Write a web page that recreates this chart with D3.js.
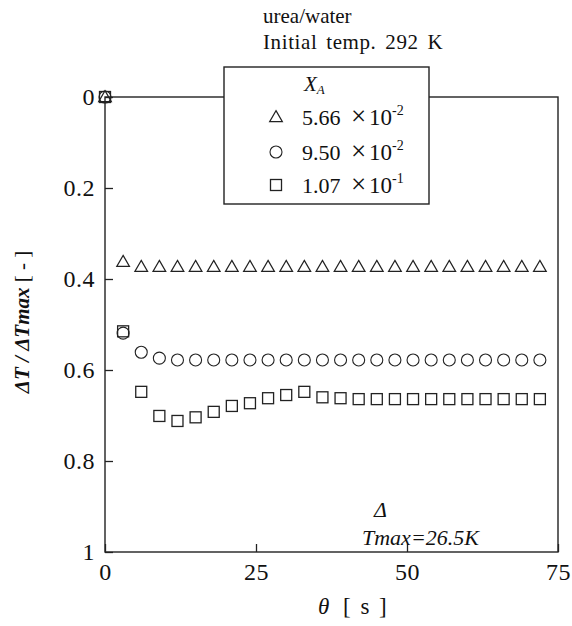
<!DOCTYPE html>
<html>
<head>
  <style>
    body { margin: 0; background: #fff; }
    text { font-family: "Liberation Serif", "DejaVu Serif", serif; fill: #111; }
  </style>
</head>
<body>
  <script src="https://d3js.org/d3.v7.min.js"></script>
  <script>
    // time points [s]
    const times = [0, 3, 6, 9, 12, 15, 18, 21, 24, 27, 30, 33, 36, 39, 42, 45, 48, 51, 54, 57, 60, 63, 66, 69, 72];

    // dT / dTmax for each mole fraction
    const triValues = [0, 0.362, 0.373, 0.373, 0.373, 0.373, 0.373, 0.373, 0.373, 0.373, 0.373, 0.373, 0.373,
      0.373, 0.373, 0.373, 0.373, 0.373, 0.373, 0.373, 0.373, 0.373, 0.373, 0.373, 0.373];
    const circValues = [0, 0.519, 0.561, 0.574, 0.578, 0.578, 0.578, 0.578, 0.578, 0.578, 0.578, 0.578, 0.578,
      0.578, 0.578, 0.578, 0.578, 0.578, 0.578, 0.578, 0.578, 0.578, 0.578, 0.578, 0.578];
    const sqValues = [0, 0.515, 0.648, 0.701, 0.712, 0.704, 0.692, 0.679, 0.673, 0.662, 0.655, 0.648, 0.660,
      0.662, 0.664, 0.664, 0.664, 0.664, 0.664, 0.664, 0.664, 0.664, 0.664, 0.664, 0.664];

    const legendMant = ["5.66", "9.50", "1.07"];
    const legendExp = ["-2", "-2", "-1"];

    const xTicks = [0, 25, 50, 75];
    const yTicks = [0, 0.2, 0.4, 0.6, 0.8, 1];

    const w = 572;
    const h = 626;

    const xScale = d3.scaleLinear().domain([0, 75]).range([105, 558]);
    const yScale = d3.scaleLinear().domain([0, 1]).range([97, 552]);

    const svg = d3.select("body").append("svg")
      .attr("width", w)
      .attr("height", h);

    // frame
    svg.append("rect")
      .attr("x", xScale(0)).attr("y", yScale(0))
      .attr("width", xScale(75) - xScale(0))
      .attr("height", yScale(1) - yScale(0))
      .attr("fill", "none").attr("stroke", "#222").attr("stroke-width", 1.4);

    // axes with inward ticks
    const yAxis = d3.axisLeft(yScale).tickValues(yTicks).tickSize(-8).tickPadding(10)
      .tickFormat(d => (d === 0 || d === 1) ? String(d) : d.toFixed(1));
    const xAxis = d3.axisBottom(xScale).tickValues(xTicks).tickSize(-8).tickPadding(11)
      .tickFormat(d3.format("d"));

    const gy = svg.append("g").attr("transform", "translate(" + xScale(0) + ",0)").call(yAxis);
    const gx = svg.append("g").attr("transform", "translate(0," + yScale(1) + ")").call(xAxis);
    [gx, gy].forEach(g => {
      g.select(".domain").remove();
      g.selectAll("line").attr("stroke", "#222").attr("stroke-width", 1.3);
      g.selectAll("text").style("font-family", "Liberation Serif").style("font-size", "24px")
        .style("letter-spacing", "0.5px").attr("fill", "#111");
    });

    // markers
    const tri = d3.symbol().type(d3.symbolTriangle).size(70);
    const series = [
      { vals: triValues, kind: "tri" },
      { vals: circValues, kind: "circ" },
      { vals: sqValues, kind: "sq" }
    ];

    function drawMarker(g, kind, cx, cy) {
      if (kind === "tri") {
        g.append("path").attr("d", tri()).attr("transform", "translate(" + cx + "," + (cy + 1) + ")")
          .attr("fill", "none").attr("stroke", "#222").attr("stroke-width", 1.2);
      } else if (kind === "circ") {
        g.append("circle").attr("cx", cx).attr("cy", cy).attr("r", 6)
          .attr("fill", "none").attr("stroke", "#222").attr("stroke-width", 1.1);
      } else {
        g.append("rect").attr("x", cx - 5.5).attr("y", cy - 5.5).attr("width", 11).attr("height", 11)
          .attr("fill", "none").attr("stroke", "#222").attr("stroke-width", 1.3);
      }
    }

    const marks = svg.append("g");
    series.forEach(s => {
      times.forEach((t, i) => drawMarker(marks, s.kind, xScale(t), yScale(s.vals[i])));
    });

    // legend box
    svg.append("rect")
      .attr("x", 224).attr("y", 67).attr("width", 205).attr("height", 137)
      .attr("fill", "#fff").attr("stroke", "#222").attr("stroke-width", 1.4);

    const lg = svg.append("g");
    const xa = lg.append("text").attr("x", 304).attr("y", 91).style("font-size", "21px").style("font-style", "italic");
    xa.append("tspan").text("X");
    xa.append("tspan").attr("dy", 3).style("font-size", "13px").text("A");

    const rowsY = [118, 153, 186];
    const kinds = ["tri", "circ", "sq"];
    rowsY.forEach((ry, i) => {
      drawMarker(lg, kinds[i], 276, ry - 1);
      const t = lg.append("text").attr("y", ry + 7).style("font-size", "22px");
      t.append("tspan").attr("x", 302).text(legendMant[i]);
      t.append("tspan").attr("x", 351).text("\u00d7").style("font-size", "27px");
      t.append("tspan").attr("x", 369).text("10").style("font-size", "23px");
      t.append("tspan").attr("dy", -10).style("font-size", "14px").text(legendExp[i]);
    });

    // title
    svg.append("text").attr("x", 263).attr("y", 23).style("font-size", "21px").text("urea/water");
    svg.append("text").attr("x", 263).attr("y", 49).style("font-size", "21px")
      .style("letter-spacing", "0.6px").style("word-spacing", "3px")
      .text("Initial temp. 292 K");

    // annotation
    svg.append("text").attr("x", 374).attr("y", 517).style("font-size", "22px").style("font-style", "italic").text("\u0394");
    svg.append("text").attr("x", 362).attr("y", 545).style("font-size", "22px").style("font-style", "italic").text("Tmax=26.5K");

    // axis titles
    const xl = svg.append("text").attr("x", 318).attr("y", 614).style("font-size", "23px");
    xl.append("tspan").style("font-style", "italic").text("\u03b8");
    xl.append("tspan").attr("x", 343).text("[ s ]").style("letter-spacing", "2px");

    const yl = svg.append("text")
      .attr("transform", "translate(29,322) rotate(-90)")
      .attr("text-anchor", "middle")
      .style("font-size", "21px");
    yl.append("tspan").style("font-style", "italic").style("font-weight", "bold").text("\u0394T / \u0394Tmax ");
    yl.append("tspan").text("[ - ]");
  </script>
</body>
</html>
